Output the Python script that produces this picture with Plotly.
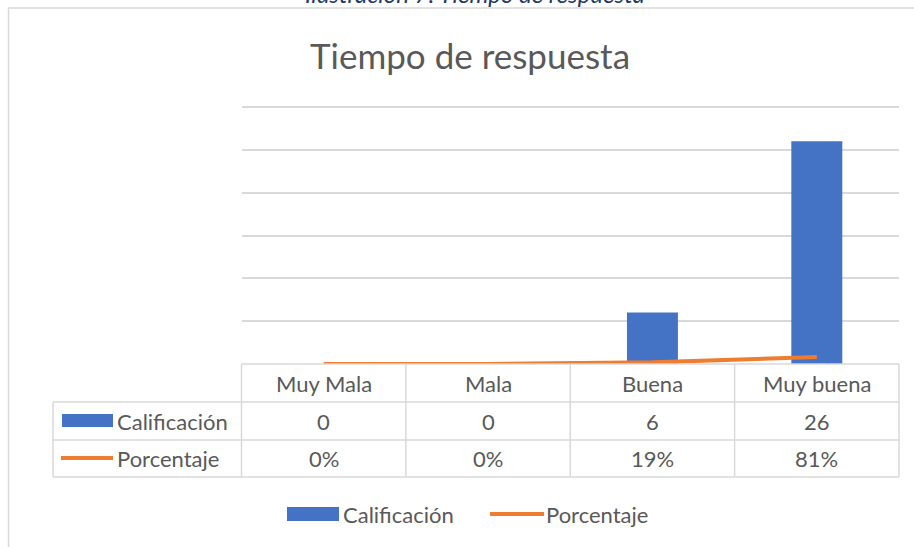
import plotly.graph_objects as go

# --- Data ---
categories = ["Muy Mala", "Mala", "Buena", "Muy buena"]
calificacion = [0, 0, 6, 26]
porcentaje = [0.0, 0.0, 0.19, 0.81]
porcentaje_labels = ["0%", "0%", "19%", "81%"]
y_ticks = [0, 5, 10, 15, 20, 25, 30]

W, H = 914, 547
BLUE = "#4472C4"
ORANGE = "#ED7D31"
GRID = "#D9D9D9"
TEXT = "#595959"
FONT = "Lato"


def px(x):
    return x / W


def py(y):
    return 1 - y / H


# plot area in pixels (value 30 sits at Y_TOP, 0 at Y_BASE)
X0, X1 = 241.5, 899
Y_TOP, Y_BASE = 107, 364
Y_MAX = 30.6  # a little headroom so plotly keeps the top gridline
Y_DOM_TOP = Y_BASE - (Y_BASE - Y_TOP) * Y_MAX / 30
ROW1, ROW2, ROW3 = 402, 440, 477
TABLE_LEFT = 53

fig = go.Figure()

fig.add_trace(
    go.Bar(
        x=categories,
        y=calificacion,
        marker=dict(color=BLUE, line=dict(width=0)),
        width=0.31,
        name="Calificación",
        showlegend=False,
    )
)

fig.add_trace(
    go.Scatter(
        x=categories,
        y=porcentaje,
        mode="lines",
        line=dict(color=ORANGE, width=4),
        name="Porcentaje",
        showlegend=False,
    )
)

shapes = []
annotations = []

# chart frame
shapes.append(dict(type="line", xref="paper", yref="paper", x0=px(8), x1=px(914),
                   y0=py(8), y1=py(8), line=dict(color=GRID, width=1.5)))
shapes.append(dict(type="line", xref="paper", yref="paper", x0=px(8.5), x1=px(8.5),
                   y0=py(8), y1=py(547), line=dict(color=GRID, width=1.5)))

# data table grid
tline = dict(color=GRID, width=1.5)
shapes.append(dict(type="line", xref="paper", yref="paper", x0=px(X0), x1=px(X1),
                   y0=py(Y_BASE), y1=py(Y_BASE), line=tline))
for yy in (ROW1, ROW2, ROW3):
    shapes.append(dict(type="line", xref="paper", yref="paper", x0=px(TABLE_LEFT), x1=px(X1),
                       y0=py(yy), y1=py(yy), line=tline))
shapes.append(dict(type="line", xref="paper", yref="paper", x0=px(TABLE_LEFT), x1=px(TABLE_LEFT),
                   y0=py(ROW1), y1=py(ROW3), line=tline))
col_w = (X1 - X0) / len(categories)
for i in range(len(categories) + 1):
    xx = X0 + i * col_w
    shapes.append(dict(type="line", xref="paper", yref="paper", x0=px(xx), x1=px(xx),
                       y0=py(Y_BASE), y1=py(ROW3), line=tline))

# table texts
cell_font = dict(family=FONT, size=22, color=TEXT)
for i, cat in enumerate(categories):
    annotations.append(dict(x=cat, xref="x", y=py((Y_BASE + ROW1) / 2), yref="paper",
                            yanchor="middle", text=cat, showarrow=False, font=cell_font))
    annotations.append(dict(x=cat, xref="x", y=py((ROW1 + ROW2) / 2), yref="paper",
                            yanchor="middle", text=str(calificacion[i]), showarrow=False,
                            font=cell_font))
    annotations.append(dict(x=cat, xref="x", y=py((ROW2 + ROW3) / 2), yref="paper",
                            yanchor="middle", text=porcentaje_labels[i], showarrow=False,
                            font=cell_font))


def label(x, y, text):
    annotations.append(dict(x=px(x), y=py(y), xref="paper", yref="paper",
                            xanchor="left", yanchor="middle",
                            text=text, showarrow=False, font=cell_font))


# table legend keys
shapes.append(dict(type="rect", xref="paper", yref="paper", x0=px(62), x1=px(113),
                   y0=py(414), y1=py(427), fillcolor=BLUE, line=dict(width=0)))
label(115, 421, "Calificación")
shapes.append(dict(type="line", xref="paper", yref="paper", x0=px(61), x1=px(113),
                   y0=py(458), y1=py(458), line=dict(color=ORANGE, width=4)))
label(115, 458, "Porcentaje")

# bottom legend
shapes.append(dict(type="rect", xref="paper", yref="paper", x0=px(287), x1=px(339),
                   y0=py(507), y1=py(521), fillcolor=BLUE, line=dict(width=0)))
label(341, 514, "Calificación")
shapes.append(dict(type="line", xref="paper", yref="paper", x0=px(490), x1=px(544),
                   y0=py(514), y1=py(514), line=dict(color=ORANGE, width=4)))
label(544, 514, "Porcentaje")

# title and caption (caption is cut by the top edge, as in the source)
annotations.append(dict(x=px(470), y=py(55), xref="paper", yref="paper",
                        xanchor="center", yanchor="middle",
                        text="Tiempo de respuesta", showarrow=False,
                        font=dict(family=FONT, size=35, color=TEXT)))
annotations.append(dict(x=px(475), y=py(-7), xref="paper", yref="paper",
                        xanchor="center", yanchor="middle",
                        text="<i>Ilustración 7: Tiempo de respuesta</i>", showarrow=False,
                        font=dict(family=FONT, size=24, color="#1F3864")))

fig.update_layout(
    width=W,
    height=H,
    margin=dict(l=0, r=0, t=0, b=0),
    paper_bgcolor="white",
    plot_bgcolor="white",
    showlegend=False,
    shapes=shapes,
    annotations=annotations,
    xaxis=dict(
        domain=[px(X0), px(X1)],
        range=[-0.5, 3.5],
        showticklabels=False,
        showgrid=False,
        zeroline=False,
        showline=False,
        ticks="",
    ),
    yaxis=dict(
        domain=[py(Y_BASE), py(Y_DOM_TOP)],
        range=[0, Y_MAX],
        tickvals=y_ticks,
        showticklabels=False,
        showgrid=True,
        gridcolor=GRID,
        gridwidth=1.5,
        zeroline=False,
        showline=False,
        ticks="",
    ),
)

# the page is photographed edge to edge, so drop the default body margin
fig.write_html(
    "out.html",
    config={"displayModeBar": False},
    post_script="document.body.style.margin = '0';",
)
